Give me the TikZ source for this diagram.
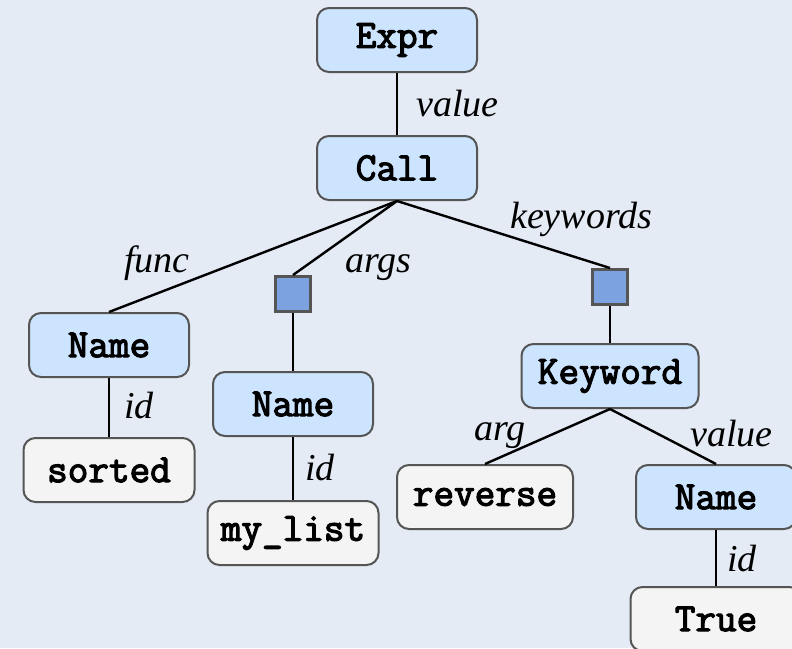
\documentclass[tikz,border=0pt]{standalone}
\usepackage{fontspec}
\setmainfont{Liberation Serif}
\newfontfamily\codefont{Latin Modern Mono}[FakeBold=3]
\definecolor{bgc}{HTML}{E4EBF5}
\definecolor{bluef}{HTML}{CCE4FD}
\definecolor{whitef}{HTML}{F4F4F4}
\definecolor{sqf}{HTML}{7CA3E0}
\definecolor{bord}{HTML}{555555}
\tikzset{
  astnode/.style={draw=bord, line width=2pt, rounded corners=12pt, inner sep=0pt,
    minimum height=64pt, font=\codefont\fontsize{40}{44}\selectfont},
  bluebox/.style={astnode, fill=bluef, minimum width=160pt},
  whitebox/.style={astnode, fill=whitef, minimum width=171pt},
  listsq/.style={draw=bord, line width=3pt, fill=sqf, minimum width=35pt, minimum height=35pt, inner sep=0pt},
  edgeline/.style={line width=2.4pt, black},
  lbl/.style={anchor=base west, inner sep=0pt, font=\itshape\fontsize{38}{40}\selectfont}
}
\begin{document}
\begin{tikzpicture}[x=1pt,y=-1pt]
\clip (0,0) rectangle (792,648);
\fill[bgc] (0,0) rectangle (792,648);
\useasboundingbox (0,0) rectangle (792,648);
% nodes
\node[bluebox] (expr) at (397,40) {Expr};
\node[bluebox] (call) at (397,168) {Call};
\node[bluebox] (name1) at (109,345) {Name};
\node[listsq] (sq1) at (293,294) {};
\node[bluebox] (name2) at (293,404) {Name};
\node[listsq] (sq2) at (610,287) {};
\node[bluebox, minimum width=177pt] (kw) at (610,376) {Keyword};
\node[whitebox] (sorted) at (109,470) {sorted};
\node[whitebox] (mylist) at (293,533) {my\_list};
\node[whitebox, minimum width=176pt] (reverse) at (485,497) {reverse};
\node[bluebox] (name3) at (716,497) {Name};
\node[whitebox] (true) at (716,619) {True};
% edges
\draw[edgeline] (expr.south) -- (call.north);
\draw[edgeline] (call.south) -- (name1.north);
\draw[edgeline] (call.south) -- (sq1.north);
\draw[edgeline] (call.south) -- (sq2.north);
\draw[edgeline] (sq1.south) -- (name2.north);
\draw[edgeline] (sq2.south) -- (kw.north);
\draw[edgeline] (name1.south) -- (sorted.north);
\draw[edgeline] (name2.south) -- (mylist.north);
\draw[edgeline] (kw.south) -- (reverse.north);
\draw[edgeline] (kw.south) -- (name3.north);
\draw[edgeline] (name3.south) -- (true.north);
% labels
\node[lbl] (lvalue1) at (416,116) {value};
\node[lbl] (lfunc) at (124,272) {func};
\node[lbl] (largs) at (345,272) {args};
\node[lbl] (lkw) at (510,228) {keywords};
\node[lbl] (lid1) at (124,418) {id};
\node[lbl] (lid2) at (305,480) {id};
\node[lbl] (larg) at (474,440) {arg};
\node[lbl] (lvalue2) at (690,446) {value};
\node[lbl] (lid3) at (727,571) {id};
\end{tikzpicture}
\end{document}
